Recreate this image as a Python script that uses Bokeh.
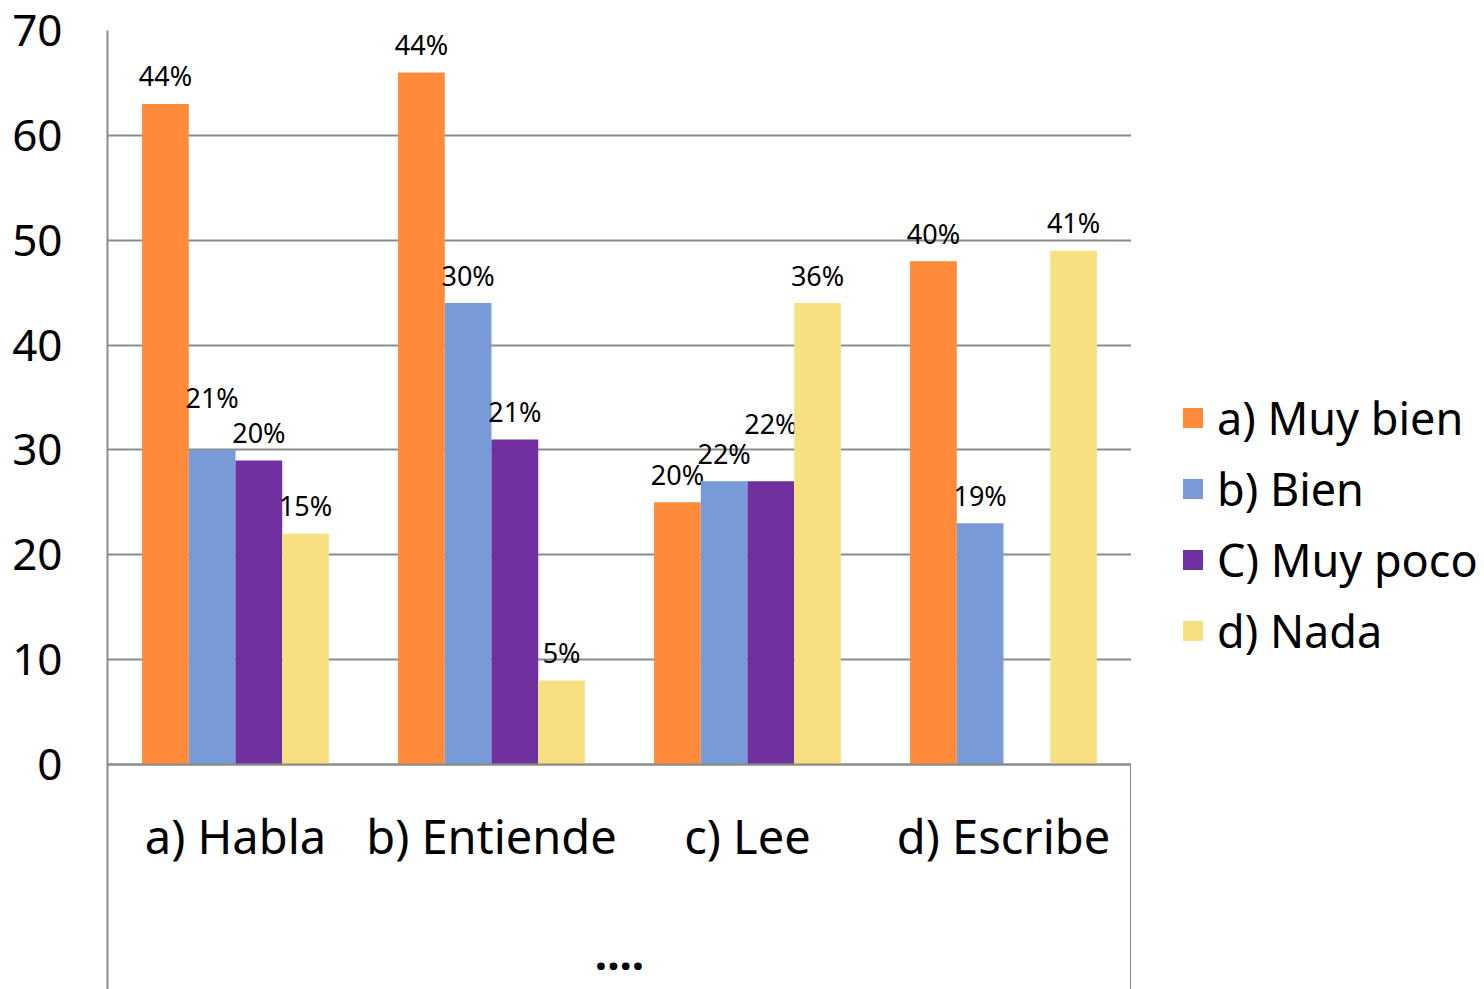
from bokeh.plotting import figure
from bokeh.layouts import row
from bokeh.models import (FactorRange, Range1d, FixedTicker, Legend, LegendItem,
                          ColumnDataSource)
from bokeh.transform import dodge
from bokeh.core.properties import value
from bokeh.embed import file_html
from bokeh.resources import INLINE

# ---- data ----
categories = ["a) Habla", "b) Entiende", "c) Lee", "d) Escribe"]
series_names = ["a) Muy bien", "b) Bien", "C) Muy poco", "d) Nada"]
muy_bien = [63, 66, 25, 48]
bien = [30, 44, 27, 23]
muy_poco = [29, 31, 27, 0]
nada = [22, 8, 44, 49]
lab_muy_bien = ["44%", "44%", "20%", "40%"]
lab_bien = ["21%", "30%", "22%", "19%"]
lab_muy_poco = ["20%", "21%", "22%", ""]
lab_nada = ["15%", "5%", "36%", "41%"]
y_ticks = [0, 10, 20, 30, 40, 50, 60, 70]

# ---- styling / layout (not data) ----
colors = ["#FF8A3A", "#789BD8", "#7030A0", "#F8E082"]
label_nudge = [[0, 0, 0, 0], [-24, 0, 0, 0], [0, 0, -30, 0], [0, 0, 0, 0]]
FONT = "Noto Sans"
GRID = "#8C8C8C"
bar_w = 0.1825
offsets = [-1.5 * bar_w, -0.5 * bar_w, 0.5 * bar_w, 1.5 * bar_w]
Y_LOW = -21.46
H = 989

src = ColumnDataSource(dict(
    cat=categories,
    v0=muy_bien, v1=bien, v2=muy_poco, v3=nada,
    l0=lab_muy_bien, l1=lab_bien, l2=lab_muy_poco, l3=lab_nada,
    n0=[-28 + d for d in label_nudge[0]],
    n1=[-28 + d for d in label_nudge[1]],
    n2=[-28 + d for d in label_nudge[2]],
    n3=[-28 + d for d in label_nudge[3]],
))

p = figure(x_range=FactorRange(factors=categories, range_padding=0),
           y_range=Range1d(Y_LOW, 70),
           width=1131, height=H,
           output_backend="svg", toolbar_location=None,
           min_border_left=107, min_border_right=0,
           min_border_top=30, min_border_bottom=0)
p.outline_line_color = None
p.background_fill_color = "white"
p.border_fill_color = "white"

bar_renderers = []
for i in range(4):
    r = p.vbar(x=dodge("cat", offsets[i], range=p.x_range), top="v%d" % i,
               width=bar_w, source=src, fill_color=colors[i], line_color=None)
    bar_renderers.append(r)
    p.text(x=dodge("cat", offsets[i], range=p.x_range), y="v%d" % i,
           text="l%d" % i, y_offset="n%d" % i, source=src,
           text_align="center", text_baseline="alphabetic",
           text_font=value(FONT), text_font_size="27px", text_color="black")

# right border of category-axis box
p.segment(x0=[4], y0=[0], x1=[4], y1=[Y_LOW], line_color=GRID, line_width=3)

# y axis
p.yaxis.ticker = FixedTicker(ticks=y_ticks)
p.yaxis.major_tick_line_color = None
p.yaxis.major_tick_out = 0
p.yaxis.major_tick_in = 0
p.yaxis.minor_tick_line_color = None
p.yaxis.axis_line_color = GRID
p.yaxis.axis_line_width = 2
p.yaxis.major_label_text_font = FONT
p.yaxis.major_label_text_font_size = "44px"
p.yaxis.major_label_text_color = "black"
p.yaxis.major_label_standoff = 45

p.ygrid.ticker = FixedTicker(ticks=y_ticks)
p.ygrid.grid_line_color = GRID
p.ygrid.grid_line_width = 2
p.xgrid.visible = False

# x axis at y = 0
p.xaxis.fixed_location = 0
p.xaxis.major_tick_line_color = None
p.xaxis.minor_tick_line_color = None
p.xaxis.axis_line_color = GRID
p.xaxis.axis_line_width = 2
p.xaxis.major_label_text_font = FONT
p.xaxis.major_label_text_font_size = "47px"
p.xaxis.major_label_text_color = "black"
p.xaxis.major_label_standoff = 34
p.xaxis.axis_label = "...."
p.xaxis.axis_label_text_font = FONT
p.xaxis.axis_label_text_font_size = "44px"
p.xaxis.axis_label_text_font_style = "bold"
p.xaxis.axis_label_text_color = "black"
p.xaxis.axis_label_standoff = 66

# ---- legend panel (swatches use the same series colours; glyphs kept off-view) ----
lg = figure(width=1484 - 1131, height=H, output_backend="svg",
            toolbar_location=None, min_border=0,
            x_range=Range1d(0, 1), y_range=Range1d(0, 1))
lg.axis.visible = False
lg.grid.visible = False
lg.outline_line_color = None
lg.background_fill_color = "white"
lg.border_fill_color = "white"
items = []
for i in range(4):
    r = lg.vbar(x=[-5], top=[-5], bottom=[-6], width=0.1,
                fill_color=colors[i], line_color=None)
    items.append(LegendItem(label=series_names[i], renderers=[r]))
legend = Legend(items=items, location=(49, 328), orientation="vertical",
                label_text_font=FONT, label_text_font_size="45px",
                label_text_color="black",
                glyph_width=25, glyph_height=25, label_standoff=12,
                spacing=10, padding=0, margin=0,
                border_line_color=None, background_fill_alpha=0)
lg.add_layout(legend)

layout = row(p, lg, spacing=0)
open("out.html", "w").write(file_html(layout, INLINE))
